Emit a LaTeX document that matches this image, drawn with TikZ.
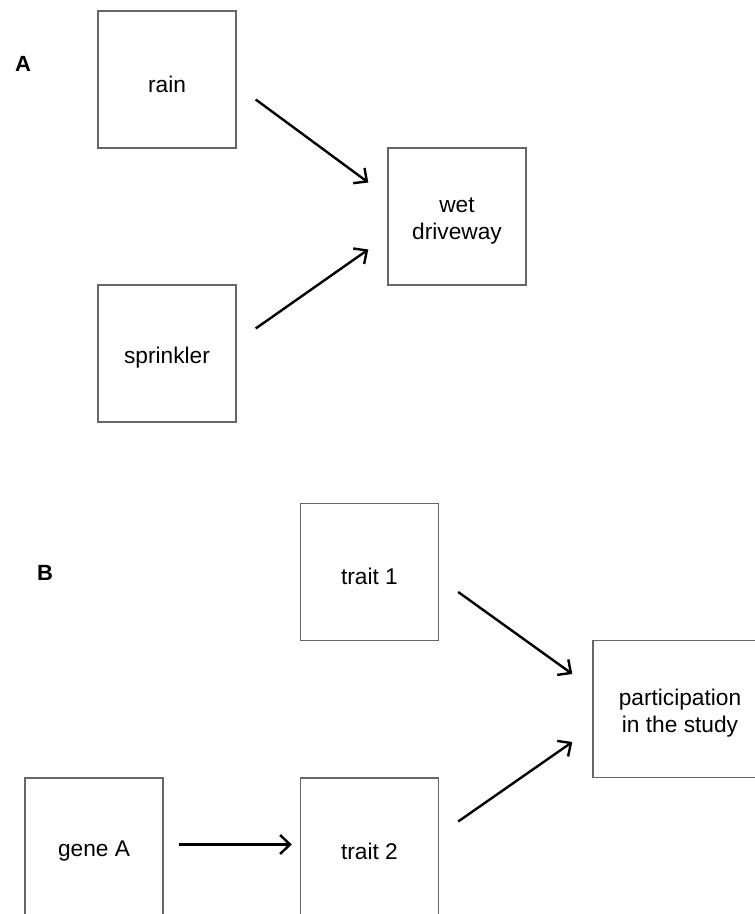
\documentclass[tikz,border=0pt]{standalone}
\usepackage{fontspec}
\setmainfont{Liberation Sans}
\usetikzlibrary{arrows.meta}

\begin{document}
\begin{tikzpicture}[x=1pt, y=1pt,
        causetext/.style={align=center, inner sep=0pt, yshift=-4.5pt, font=\fontsize{22.7}{27.2}\selectfont},
        causebox/.style={draw=black!60, line width=1.4pt, minimum width=138pt, minimum height=137pt,
            inner sep=0pt, label={[causetext]center:#1}},
        causearrow/.style={line width=2.4pt, -{Straight Barb[length=10pt, width=19pt, line width=2.4pt]}},
        panel/.style={font=\fontsize{22}{26}\selectfont\bfseries}]
            \useasboundingbox (0, 0) rectangle (755, 914);

            \node[panel] (labA) at (23, 850) {A};
            \node[causebox={rain}] (rain) at (167, 834.5) {};
            \node[causebox={sprinkler}] (sprinkler) at (167, 560.5) {};
            \node[causebox={wet\\driveway}] (wet) at (457, 697.5) {};

            \draw[causearrow] ([xshift=19pt, yshift=-20pt]rain.east) -- ([xshift=-19pt, yshift=34pt]wet.west);
            \draw[causearrow] ([xshift=19pt, yshift=25pt]sprinkler.east) -- ([xshift=-19pt, yshift=-33pt]wet.west);

            \node[panel] (labB) at (45, 341) {B};
            \node[causebox={trait 1}] (trait1) at (369.5, 342) {};
            \node[causebox={gene A}] (geneA) at (94, 67.5) {};
            \node[causebox={trait 2}] (trait2) at (369.5, 67.5) {};
            \node[causebox={participation\\in the study}, minimum width=174pt] (study) at (680, 205) {};

            \draw[causearrow, shorten <=15pt, shorten >=8pt] ([yshift=2pt]geneA.east) -- ([yshift=2pt]trait2.west);
            \draw[causearrow] ([xshift=19pt, yshift=-20pt]trait1.east) -- ([xshift=-20pt, yshift=35pt]study.west);
            \draw[causearrow] ([xshift=19pt, yshift=25pt]trait2.east) -- ([xshift=-20pt, yshift=-33pt]study.west);
        \end{tikzpicture}
\end{document}
